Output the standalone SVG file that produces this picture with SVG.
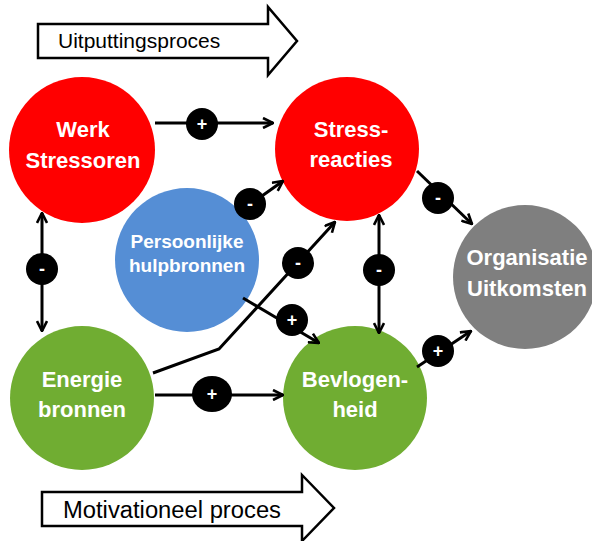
<svg xmlns="http://www.w3.org/2000/svg" width="592" height="541" viewBox="0 0 592 541">
<style>
.node text{font-family:"Liberation Sans",Arial,sans-serif;font-weight:bold;fill:#fff;text-anchor:middle}
.big{font-size:22px}
.small{font-size:19px}
.conn line,.conn polyline{stroke:#000;stroke-width:3;fill:none}
.badge ellipse{fill:#000}
.badge text{font-family:"Liberation Sans",Arial,sans-serif;font-weight:bold;font-size:18px;fill:#fff;text-anchor:middle}
.proc path{fill:#fff;stroke:#000;stroke-width:2.5}
.proc text{font-family:"Liberation Sans",Arial,sans-serif;font-size:21px;fill:#000}
</style>
<defs>
<marker id="ah" viewBox="0 0 12 12" refX="11" refY="6" markerWidth="12" markerHeight="12" markerUnits="userSpaceOnUse" orient="auto-start-reverse">
<path d="M1,1 L11,6 L1,11" fill="none" stroke="#000" stroke-width="2.6"/>
</marker>
</defs>
<rect width="592" height="541" fill="#fff"/>

<g id="proc-uitputting" class="proc">
<path d="M38,24 H268 V7 L297,41 L268,75 V58 H38 Z"/>
<text x="58" y="48">Uitputtingsproces</text>
</g>
<g id="proc-motivationeel" class="proc">
<path d="M42,492 H302 V475 L334,508 L302,541 V526 H42 Z"/>
<text x="63" y="518" style="font-size:23px" textLength="218" lengthAdjust="spacingAndGlyphs">Motivationeel proces</text>
</g>

<g id="werk" class="node">
<circle cx="82" cy="150" r="73" fill="#ff0000"/>
<text class="big" x="83" y="137">Werk</text>
<text class="big" x="83" y="168">Stressoren</text>
</g>
<g id="stress" class="node">
<circle cx="347" cy="149" r="72" fill="#ff0000"/>
<text class="big" x="351" y="137">Stress-</text>
<text class="big" x="351" y="167">reacties</text>
</g>
<g id="persoonlijk" class="node">
<circle cx="187" cy="260" r="72" fill="#558ed5"/>
<text class="small" x="187" y="248">Persoonlijke</text>
<text class="small" x="187" y="272">hulpbronnen</text>
</g>
<g id="energie" class="node">
<circle cx="82" cy="398" r="72" fill="#70ad32"/>
<text class="big" x="82" y="387">Energie</text>
<text class="big" x="82" y="417">bronnen</text>
</g>
<g id="bevlogen" class="node">
<circle cx="355" cy="398" r="72" fill="#70ad32"/>
<text class="big" x="355" y="387">Bevlogen-</text>
<text class="big" x="355" y="417">heid</text>
</g>
<g id="organisatie" class="node">
<circle cx="525" cy="277" r="72" fill="#7f7f7f"/>
<text class="big" x="527" y="265">Organisatie</text>
<text class="big" x="527" y="296">Uitkomsten</text>
</g>

<g id="connectors" class="conn">
<line x1="155" y1="123" x2="273" y2="123" marker-end="url(#ah)"/>
<line x1="42" y1="213" x2="42" y2="331" marker-start="url(#ah)" marker-end="url(#ah)"/>
<line x1="238" y1="213" x2="283" y2="181" marker-end="url(#ah)"/>
<polyline points="153,373 219,349 335,222" marker-end="url(#ah)"/>
<line x1="243" y1="298" x2="319" y2="343" marker-end="url(#ah)"/>
<line x1="379" y1="215" x2="379" y2="333" marker-start="url(#ah)" marker-end="url(#ah)"/>
<line x1="417" y1="171" x2="472" y2="224" marker-end="url(#ah)"/>
<line x1="155" y1="395" x2="283" y2="395" marker-end="url(#ah)"/>
<line x1="417" y1="367" x2="471" y2="331" marker-end="url(#ah)"/>

<g class="badge"><ellipse cx="202" cy="124" rx="16" ry="16"/><text x="202" y="130">+</text></g>
<g class="badge"><ellipse cx="42" cy="269" rx="16" ry="16"/><text x="42" y="275">-</text></g>
<g class="badge"><ellipse cx="250" cy="204" rx="16" ry="16"/><text x="250" y="210">-</text></g>
<g class="badge"><ellipse cx="298" cy="263" rx="16" ry="16"/><text x="298" y="269">-</text></g>
<g class="badge"><ellipse cx="292" cy="320" rx="16" ry="16"/><text x="292" y="326">+</text></g>
<g class="badge"><ellipse cx="379" cy="270" rx="16" ry="16"/><text x="379" y="276">-</text></g>
<g class="badge"><ellipse cx="438" cy="198" rx="16" ry="16"/><text x="438" y="204">-</text></g>
<g class="badge"><ellipse cx="212" cy="394" rx="20" ry="18"/><text x="212" y="400">+</text></g>
<g class="badge"><ellipse cx="438" cy="351" rx="16" ry="16"/><text x="438" y="357">+</text></g>
</g>
</svg>
